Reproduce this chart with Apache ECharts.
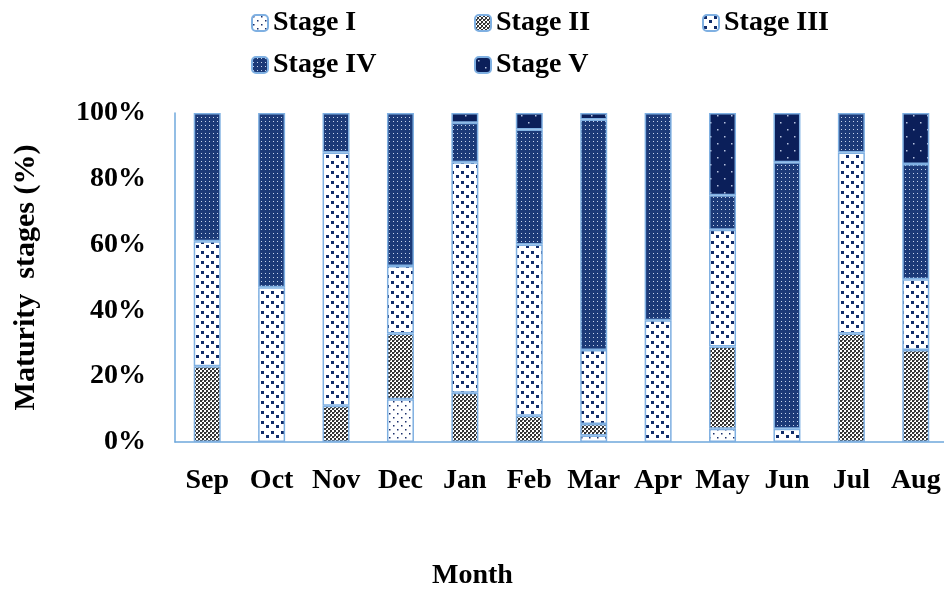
<!DOCTYPE html>
<html>
<head>
<meta charset="utf-8">
<script src="https://cdn.jsdelivr.net/npm/echarts@6/dist/echarts.min.js"></script>
<style>
  html, body { margin: 0; padding: 0; background: #fff; }
  #main { width: 944px; height: 591px; }
</style>
</head>
<body>
<div id="main"></div>
<script>
// data (% of fish per stage)
var months = ['Sep', 'Oct', 'Nov', 'Dec', 'Jan', 'Feb', 'Mar', 'Apr', 'May', 'Jun', 'Jul', 'Aug'];
var stageNames = ['Stage I', 'Stage II', 'Stage III', 'Stage IV', 'Stage V'];
var stage1 = [0, 0, 0, 13, 0, 0, 2, 0, 4, 0, 0, 0];
var stage2 = [23, 0, 11, 20, 15, 8, 3.5, 0, 25, 0, 33, 28];
var stage3 = [38, 47, 77, 20.5, 70, 52, 22.5, 37, 35.5, 4, 55, 21.5];
var stage4 = [39, 53, 12, 46.5, 12, 35, 70, 63, 10.5, 81, 12, 35];
var stage5 = [0, 0, 0, 0, 3, 5, 2, 0, 25, 15, 0, 15.5];
var yTicks = [0, 20, 40, 60, 80, 100];

var font = 'Liberation Serif';

// hatch fills like the excel patterns
function makePattern(size, bg, draw) {
  var c = document.createElement('canvas');
  c.width = size; c.height = size;
  var ctx = c.getContext('2d');
  ctx.fillStyle = bg;
  ctx.fillRect(0, 0, size, size);
  draw(ctx);
  return { image: c, repeat: 'repeat' };
}
var patterns = [
  makePattern(8, '#ffffff', function (ctx) {
    ctx.fillStyle = '#1a2f6b';
    ctx.fillRect(1, 1, 1.5, 1.5);
    ctx.fillRect(5, 5, 1.5, 1.5);
  }),
  makePattern(4, '#ffffff', function (ctx) {
    ctx.fillStyle = '#333333';
    ctx.fillRect(0, 0, 2, 2);
    ctx.fillRect(2, 2, 2, 2);
    ctx.fillStyle = '#777777';
    ctx.fillRect(2, 0, 1, 1);
  }),
  makePattern(10, '#ffffff', function (ctx) {
    ctx.fillStyle = '#0f2a6a';
    ctx.fillRect(1, 1, 3, 3);
    ctx.fillRect(6, 5, 3, 3);
  }),
  makePattern(4, '#1c3a78', function (ctx) {
    ctx.fillStyle = '#c8d4ec';
    ctx.fillRect(1, 1, 1, 1);
  }),
  makePattern(14, '#0b1f5a', function (ctx) {
    ctx.fillStyle = '#b8c4e0';
    ctx.fillRect(3, 3, 1.5, 1.5);
    ctx.fillRect(10, 10, 1.5, 1.5);
  })
];

var stageData = [stage1, stage2, stage3, stage4, stage5];
var seriesArr = [];
stageNames.forEach(function (name, i) {
  seriesArr.push({
    name: name,
    type: 'bar',
    stack: 'total',
    barWidth: 27,
    itemStyle: {
      color: patterns[i],
      borderColor: '#7fb0e2',
      borderWidth: 1.5
    },
    data: stageData[i].map(function (v) { return v === 0 ? '-' : v; })
  });
});

// one legend per item to keep the two-row layout
var legendPos = [[251, 9], [474, 9], [702, 9], [251, 51], [474, 51]];
var legends = stageNames.map(function (name, i) {
  return {
    data: [name],
    left: legendPos[i][0],
    top: legendPos[i][1],
    padding: 0,
    itemWidth: 16,
    itemHeight: 16,
    textStyle: { fontFamily: font, fontWeight: 'bold', fontSize: 28, color: '#000' }
  };
});

var myChart = echarts.init(document.getElementById('main'));
var option = {
  backgroundColor: '#ffffff',
  animation: false,
  legend: legends,
  grid: {
    left: 175,
    right: -4,
    top: 113,
    bottom: 149,
    containLabel: false,
    outerBoundsMode: 'none'
  },
  xAxis: {
    type: 'category',
    data: months,
    axisLine: { show: true, lineStyle: { color: '#6fa8dc', width: 1.5 } },
    axisTick: { show: false },
    axisLabel: { margin: 25, interval: 0, fontFamily: font, fontWeight: 'bold', fontSize: 28, color: '#000' }
  },
  yAxis: {
    type: 'value',
    min: yTicks[0],
    max: yTicks[yTicks.length - 1],
    interval: yTicks[1] - yTicks[0],
    name: 'Maturity  stages (%)',
    nameLocation: 'middle',
    nameRotate: 90,
    nameGap: 134,
    nameTextStyle: { fontFamily: font, fontWeight: 'bold', fontSize: 30, color: '#000' },
    axisLine: { show: true, lineStyle: { color: '#6fa8dc', width: 1.5 } },
    axisTick: { show: false },
    splitLine: { show: false },
    axisLabel: {
      margin: 29,
      formatter: '{value}%',
      fontFamily: font, fontWeight: 'bold', fontSize: 28, color: '#000'
    }
  },
  graphic: [{
    type: 'text',
    left: 432,
    top: 562,
    style: { text: 'Month', fontFamily: font, fontWeight: 'bold', fontSize: 28, fill: '#000' }
  }],
  series: seriesArr
};
myChart.setOption(option);
window.addEventListener('resize', function () { myChart.resize(); });
</script>
</body>
</html>
